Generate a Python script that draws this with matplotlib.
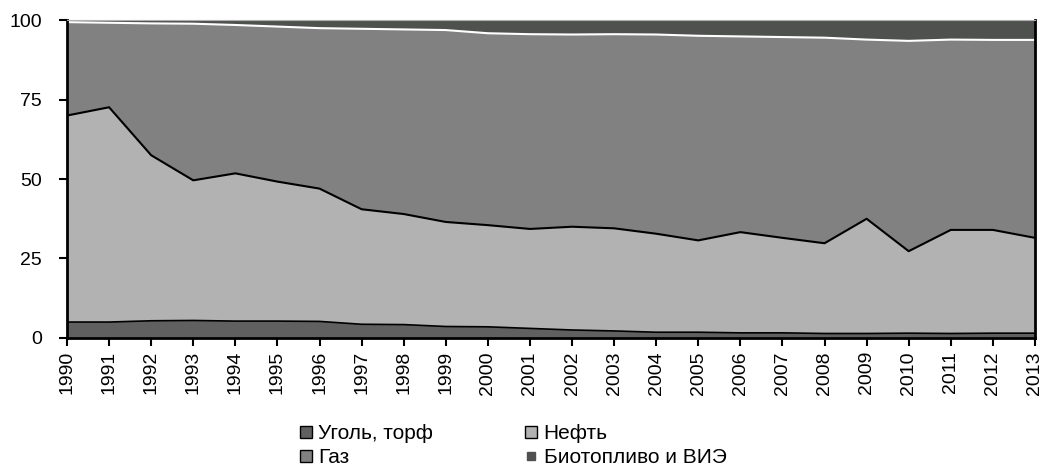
import numpy as np
import matplotlib.pyplot as plt
from matplotlib.lines import Line2D

plt.rcParams['font.family'] = ['Liberation Sans', 'DejaVu Sans']

years = list(range(1990, 2014))

# shares, %
coal = [5.0, 5.0, 5.4, 5.5, 5.3, 5.3, 5.2, 4.3, 4.2, 3.6, 3.5, 3.0,
        2.5, 2.2, 1.8, 1.8, 1.6, 1.6, 1.4, 1.4, 1.5, 1.4, 1.5, 1.5]
oil_top = [70.0, 72.6, 57.5, 49.6, 51.8, 49.2, 47.0, 40.5, 39.0, 36.5, 35.5, 34.3,
           35.0, 34.5, 32.8, 30.7, 33.3, 31.5, 29.8, 37.5, 27.3, 34.0, 34.0, 31.5]
gas_top = [99.4, 99.2, 99.0, 98.9, 98.5, 98.0, 97.5, 97.3, 97.1, 96.9, 95.9, 95.6,
           95.5, 95.6, 95.5, 95.1, 94.9, 94.7, 94.5, 93.9, 93.5, 93.9, 93.8, 93.8]

oil = [t - c for t, c in zip(oil_top, coal)]
gas = [t - o for t, o in zip(gas_top, oil_top)]
bio = [100 - t for t in gas_top]

labels = ['Уголь, торф', 'Нефть', 'Газ', 'Биотопливо и ВИЭ']
colors = ['#606060', '#b2b2b2', '#808180', '#4f514f']

x = np.array(years)
fig = plt.figure(figsize=(10.47, 4.70), dpi=100)
ax = fig.add_axes([0.064, 0.281, 0.9245, 0.676])

ax.stackplot(x, coal, oil, gas, bio, colors=colors, linewidth=0)
ax.plot(x, coal, color='black', lw=1.2)
ax.plot(x, oil_top, color='black', lw=1.5)
ax.plot(x, gas_top, color='white', lw=1.5)

ax.set_xlim(1990, 2013)
ax.set_ylim(0, 100)
ax.set_yticks([0, 25, 50, 75, 100])
ax.set_xticks(years)
ax.set_xticklabels([str(y) for y in years], rotation=90)
ax.tick_params(axis='both', labelsize=14, direction='out', length=6, width=1.5, colors='black')
ax.tick_params(axis='y', pad=12)
for s in ['left', 'bottom', 'right']:
    ax.spines[s].set_linewidth(2)
ax.spines['top'].set_color('#b0b0b0')

handles = [Line2D([], [], marker='s', ls='', markersize=9, markerfacecolor=c,
                  markeredgecolor='black', markeredgewidth=1) for c in colors]
handles[3] = Line2D([], [], marker='s', ls='', markersize=6, markerfacecolor=colors[3],
                    markeredgecolor=colors[3])
order = [0, 2, 1, 3]
fig.legend([handles[i] for i in order], [labels[i] for i in order], ncol=2,
           loc='center', bbox_to_anchor=(0.488, 0.052), frameon=False, fontsize=15,
           handletextpad=0.1, columnspacing=4.2, labelspacing=0.22, handlelength=1.0)

fig.savefig('out.png', dpi=100)
